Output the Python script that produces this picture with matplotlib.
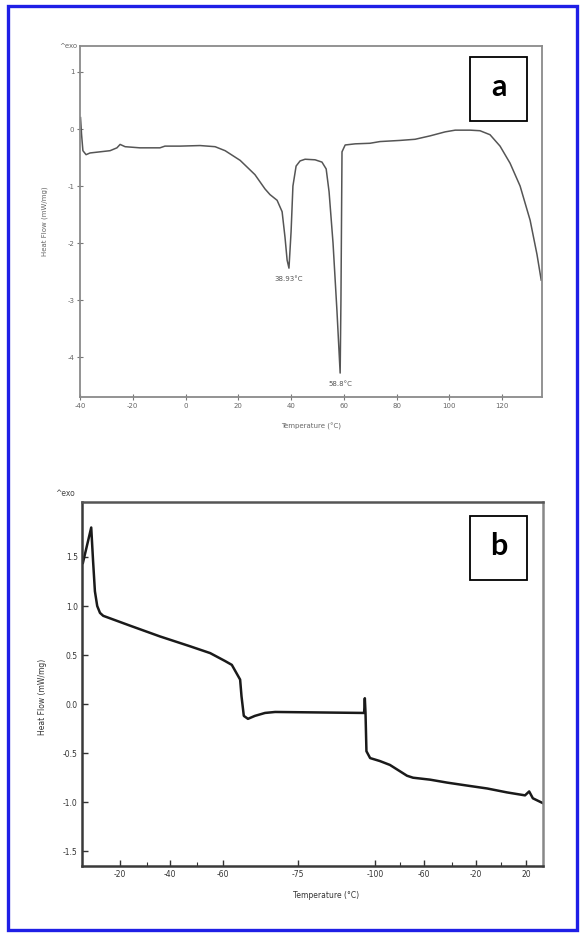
import matplotlib
matplotlib.use("Agg")
import matplotlib.pyplot as plt
from matplotlib.patches import Rectangle

plt.rcParams["axes.unicode_minus"] = False

# panel a: DSC heating curve
a_temp = [-39.8, -39.4, -38.9, -37.7, -36.2, -32.4, -28.6, -26.0, -24.8, -22.9,
          -17.3, -9.7, -7.8, -2.1, 5.5, 11.2, 15.0, 20.7, 26.3, 30.1,
          32.0, 34.7, 36.6, 37.7, 38.5, 39.2, 40.0, 40.7, 41.9, 43.4,
          45.3, 49.1, 51.7, 53.3, 54.4, 55.9, 57.4, 58.6, 58.9, 59.3,
          60.5, 64.3, 69.9, 73.7, 81.3, 87.0, 92.7, 98.4, 102.2, 107.9,
          111.6, 115.4, 119.2, 123.0, 126.8, 130.6, 133.2, 134.8]
a_flow = [0.2, -0.1, -0.38, -0.45, -0.42, -0.4, -0.38, -0.33, -0.27, -0.31,
          -0.33, -0.33, -0.3, -0.3, -0.29, -0.31, -0.38, -0.55, -0.8, -1.05,
          -1.15, -1.25, -1.45, -1.9, -2.3, -2.44, -1.8, -1.0, -0.65, -0.56,
          -0.53, -0.54, -0.58, -0.7, -1.1, -2.0, -3.2, -4.28, -3.0, -0.4,
          -0.28, -0.26, -0.25, -0.22, -0.2, -0.18, -0.12, -0.05, -0.02, -0.02,
          -0.03, -0.1, -0.3, -0.6, -1.0, -1.6, -2.2, -2.65]
a_xticks = [-40, -20, 0, 20, 40, 60, 80, 100, 120]
a_yticks = [1, 0, -1, -2, -3, -4]
a_peaks = [(39.2, -2.44, "38.93°C"), (58.6, -4.28, "58.8°C")]

# panel b: scan position (0-100 across the axis) and heat flow
b_pos = [0.2, 2.0, 2.4, 2.8, 3.3, 3.9, 4.6, 10.4, 16.9, 23.4,
         27.8, 31.0, 32.5, 34.3, 34.6, 35.1, 36.0, 37.5, 39.7, 41.9,
         61.0, 61.2, 61.35, 61.5, 61.7, 62.5, 64.6, 66.8, 70.5, 71.8,
         75.5, 79.2, 83.5, 87.9, 92.2, 96.1, 97.0, 97.8, 100.0]
b_flow = [1.44, 1.80, 1.46, 1.15, 1.0, 0.93, 0.9, 0.80, 0.69, 0.59,
          0.52, 0.44, 0.40, 0.25, 0.08, -0.12, -0.15, -0.12, -0.09, -0.08,
          -0.09, -0.09, 0.06, -0.09, -0.48, -0.55, -0.58, -0.62, -0.73, -0.75,
          -0.77, -0.80, -0.83, -0.86, -0.90, -0.93, -0.89, -0.96, -1.01]
b_tick_pos = [8.2, 19.1, 30.6, 46.9, 63.6, 74.2, 85.5, 96.3]
b_tick_lab = ["-20", "-40", "-60", "-75", "-100", "-60", "-20", "20"]
b_minor = [14.1, 24.9, 69.0, 80.3, 90.9]
b_yticks = [1.5, 1.0, 0.5, 0.0, -0.5, -1.0, -1.5]

W, H = 581, 936
fig = plt.figure(figsize=(W / 100, H / 100), dpi=100)

# blue frame round the whole picture
fig.patches.append(Rectangle((8 / W, 6 / H), 569 / W, 924 / H, transform=fig.transFigure,
                             fill=False, edgecolor="#1f1fe6", linewidth=2.4))


def panel_tag(axis, x0, y0, x1, y1, letter):
    # boxed panel letter, box given in axes fractions
    axis.add_patch(Rectangle((x0, y0), x1 - x0, y1 - y0, transform=axis.transAxes,
                             fill=True, fc="white", ec="black", lw=1.3, zorder=5))
    axis.text((x0 + x1) / 2, (y0 + y1) / 2 + 0.005, letter, transform=axis.transAxes,
              ha="center", va="center", fontsize=22, fontweight="bold",
              family=["Lato", "DejaVu Sans"], zorder=6)


# ---- panel a
ax = fig.add_axes([80 / W, 1 - 397 / H, 462 / W, 351 / H])
ax.plot(a_temp, a_flow, color="#555555", lw=1.1)
ax.set_xlim(-40, 135.1)
ax.set_ylim(-4.70, 1.456)
ax.set_xticks(a_xticks)
ax.set_yticks(a_yticks)
ax.tick_params(direction="inout", length=4, width=0.8, colors="#777777",
               labelsize=5, labelcolor="#666666", pad=2)
for s in ax.spines.values():
    s.set_color("#8a8a8a")
    s.set_linewidth(1.3)
ax.set_xlabel("Temperature (°C)", fontsize=5, color="#666666", labelpad=10)
ax.set_ylabel("Heat Flow (mW/mg)", fontsize=5, color="#666666", labelpad=14)
ax.text(-0.005, 1.0, "^exo", transform=ax.transAxes, ha="right", va="center",
        fontsize=5, color="#666666")
for t, v, lab in a_peaks:
    ax.annotate(lab, (t, v), xytext=(0, -6), textcoords="offset points",
                ha="center", va="top", fontsize=5, color="#555555")
panel_tag(ax, 0.844, 0.786, 0.9675, 0.9687, "a")

# ---- panel b
bx = fig.add_axes([82 / W, 1 - 866 / H, 461 / W, 364 / H])
bx.plot(b_pos, b_flow, color="#1a1a1a", lw=1.8)
bx.set_xlim(0, 100)
bx.set_ylim(-1.65, 2.06)
bx.set_xticks(b_tick_pos)
bx.set_xticklabels(b_tick_lab)
bx.set_xticks(b_minor, minor=True)
bx.set_yticks(b_yticks)
bx.set_yticklabels(["1.5", "1.0", "0.5", "0.0", "-0.5", "-1.0", "-1.5"])
bx.tick_params(direction="in", length=4, width=1.0, colors="#333333",
               labelsize=5.5, labelcolor="#333333", pad=3)
bx.tick_params(which="minor", direction="in", length=3, width=0.8, colors="#333333")
for s in bx.spines.values():
    s.set_color("#3a3a3a")
    s.set_linewidth(1.8)
bx.spines["top"].set_color("#555555")
bx.spines["right"].set_color("#888888")
bx.set_xlabel("Temperature (°C)", fontsize=5.5, color="#333333")
bx.xaxis.set_label_coords(0.529, -0.07)
bx.set_ylabel("Heat Flow (mW/mg)", fontsize=5.5, color="#333333")
bx.yaxis.set_label_coords(-0.076, 0.464)
bx.text(-0.015, 1.022, "^exo", transform=bx.transAxes, ha="right", va="center",
        fontsize=5.5, color="#444444")
panel_tag(bx, 0.8416, 0.7857, 0.9653, 0.9615, "b")

fig.savefig("out.png", dpi=100)
